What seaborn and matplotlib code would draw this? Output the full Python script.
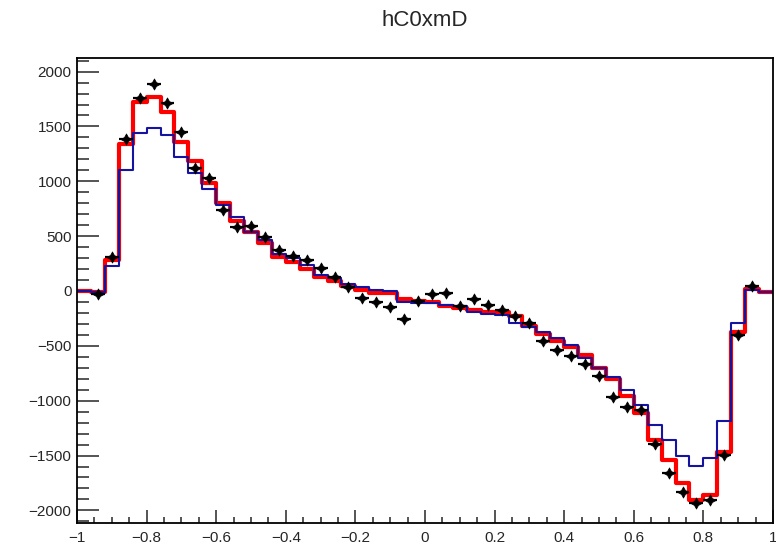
import numpy as np
import pandas as pd
import seaborn as sns
import matplotlib.pyplot as plt
from matplotlib.ticker import MultipleLocator, FuncFormatter

# hC0xmD: 50 bins from -1 to 1
x_lo, x_hi = -1.0, 1.0

red_vals = [0, -5, 283, 1340, 1726, 1771, 1630, 1361, 1185, 985,
            800, 640, 540, 436, 307, 267, 198, 130, 94, 46,
            9, -18, -20, -70, -88, -100, -140, -158, -173, -188,
            -195, -230, -318, -390, -455, -515, -580, -700, -803, -955,
            -1115, -1358, -1540, -1750, -1905, -1860, -1470, -371, 20, -10]

blue_vals = [0, -10, 228, 1100, 1443, 1483, 1418, 1224, 1075, 928,
             781, 670, 541, 465, 338, 300, 237, 146, 115, 64,
             39, 9, 3, -97, -105, -112, -128, -140, -190, -210,
             -220, -295, -331, -371, -432, -492, -614, -705, -782, -900,
             -1039, -1218, -1358, -1500, -1595, -1525, -1185, -289, 5, -6]

# empty first/last bins are not drawn as points
data_vals = [np.nan, -28, 307, 1383, 1756, 1884, 1716, 1452, 1125, 1028,
             742, 580, 590, 495, 374, 319, 283, 207, 130, 36,
             -67, -100, -143, -255, -90, -30, -21, -135, -70, -128,
             -170, -230, -292, -455, -538, -590, -668, -775, -970, -1062,
             -1085, -1396, -1662, -1829, -1935, -1905, -1495, -405, 50, np.nan]

edges = np.linspace(x_lo, x_hi, len(red_vals) + 1)
centers = 0.5 * (edges[:-1] + edges[1:])
half_w = 0.5 * (edges[1] - edges[0])

sns.set_style('ticks')
plt.rcParams['font.family'] = ['Liberation Sans', 'DejaVu Sans']

fig = plt.figure(figsize=(7.76, 5.52), dpi=100)
ax = fig.add_axes([77 / 776, 29 / 552, 696 / 776, 465 / 552])


def step_df(vals):
    return pd.DataFrame({'x': edges, 'y': list(vals) + [vals[-1]]})


sns.lineplot(data=step_df(red_vals), x='x', y='y', drawstyle='steps-post',
             color='#ff0000', linewidth=3.0, estimator=None, sort=False, ax=ax)
sns.lineplot(data=step_df(blue_vals), x='x', y='y', drawstyle='steps-post',
             color='#1414a0', linewidth=1.5, estimator=None, sort=False, ax=ax)

pts = pd.DataFrame({'x': centers, 'y': data_vals}).dropna()
ax.errorbar(pts['x'], pts['y'], xerr=half_w, fmt='none', ecolor='black',
            elinewidth=1.6, zorder=4)
sns.scatterplot(data=pts, x='x', y='y', marker=(4, 1, 0), s=65, color='black',
                edgecolor='black', linewidth=0.5, zorder=5, ax=ax)

ax.set_xlim(x_lo, x_hi)
ax.set_ylim(-2115, 2124)
ax.set_xlabel('')
ax.set_ylabel('')

ax.xaxis.set_major_locator(MultipleLocator(0.2))
ax.xaxis.set_minor_locator(MultipleLocator(0.05))
ax.yaxis.set_major_locator(MultipleLocator(500))
ax.yaxis.set_minor_locator(MultipleLocator(100))


def fmt(v, pos):
    if abs(v) < 1e-9:
        return '0'
    return ('%g' % round(v, 2)).replace('-', '\u2212')


ax.xaxis.set_major_formatter(FuncFormatter(fmt))
ax.yaxis.set_major_formatter(FuncFormatter(fmt))

ax.tick_params(axis='x', which='major', direction='in', length=9.5, width=1.1,
               pad=6, labelsize=11, top=False)
ax.tick_params(axis='x', which='minor', direction='in', length=4.5, width=1.1, top=False)
ax.tick_params(axis='y', which='major', direction='in', length=16, width=1.1,
               pad=4, labelsize=11, right=False)
ax.tick_params(axis='y', which='minor', direction='in', length=8.5, width=1.1, right=False)

for sp in ax.spines.values():
    sp.set_visible(True)
    sp.set_color('black')
    sp.set_linewidth(1.3)

fig.text(425 / 776, 1 - 20 / 552, 'hC0xmD', ha='center', va='center', fontsize=16)

fig.savefig('out.png', dpi=100)
